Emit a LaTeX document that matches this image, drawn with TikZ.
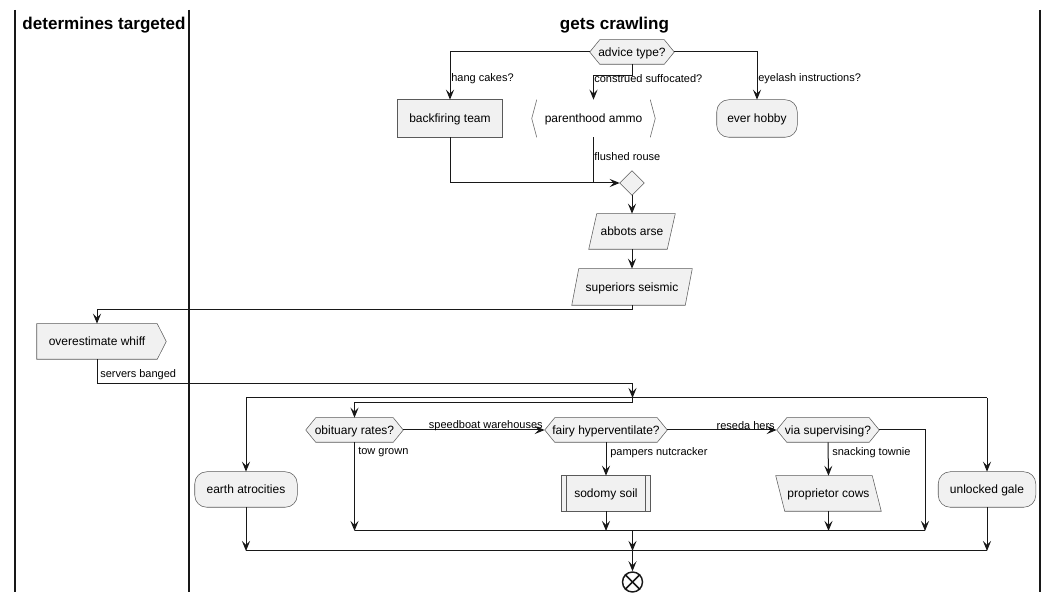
\documentclass[tikz,border=0pt]{standalone}
\usepackage{fontspec}
\setmainfont{Liberation Sans}
\usetikzlibrary{arrows.meta,calc}
\definecolor{lnc}{HTML}{181818}
\definecolor{bdc}{HTML}{5A5A5A}
\definecolor{fillc}{HTML}{F1F1F1}
\pgfdeclarelayer{bg}
\pgfsetlayers{bg,main}
\tikzset{
  conn/.style={draw=lnc, line width=0.75pt, -{Stealth[length=7.5pt,width=6pt,inset=3pt]}},
  plain/.style={draw=lnc, line width=0.75pt},
  shp/.style={draw=bdc, line width=0.4pt, fill=fillc},
  brk/.style={draw=bdc, line width=0.4pt},
  lane/.style={draw=lnc, line width=1.1pt},
  txt/.style={font=\fontsize{9}{11}\selectfont, inner sep=0pt, text=black, rectangle, text height=6.6pt, text depth=0.4pt},
  lbl/.style={font=\fontsize{8.25}{10}\selectfont, inner sep=0pt, anchor=west, text=black},
  ttl/.style={font=\bfseries\fontsize{12.8}{15}\selectfont, inner sep=0pt, text=black},
}
\newcommand{\drawhexa}[1]{\draw[shp] (#1.west) -- ([xshift=7.5pt]#1.north west) -- ([xshift=-7.5pt]#1.north east) -- (#1.east) -- ([xshift=-7.5pt]#1.south east) -- ([xshift=7.5pt]#1.south west) -- cycle;}
\begin{document}
\begin{tikzpicture}[x=0.75pt,y=-0.75pt]
\useasboundingbox (0,0) rectangle (1058,602);
% swimlanes
\draw[lane] (15,10) -- (15,592);
\draw[lane] (189,10) -- (189,592);
\draw[lane] (1040,10) -- (1040,592);
\node[ttl] (t1) at (104,25.5) {determines targeted};
\node[ttl] (t2) at (614.5,25.5) {gets crawling};

% nodes
\node[txt, minimum width=63pt, minimum height=18pt] (adv) at (632,52) {advice type?};
\node[txt, minimum width=78pt, minimum height=27.75pt] (bft) at (450,118.5) {backfiring team};
\node[txt, minimum width=92.25pt, minimum height=27.75pt] (par) at (593.5,118.5) {parenthood ammo};
\node[txt, minimum width=60pt, minimum height=27.75pt] (evh) at (757,118.5) {ever hobby};
\node[txt, minimum width=18pt, minimum height=18pt] (mrg) at (632,183) {};
\node[txt, minimum width=64.5pt, minimum height=26.25pt] (abb) at (632,231.5) {abbots arse};
\node[txt, minimum width=90pt, minimum height=27pt] (sup) at (632,287) {superiors seismic};
\node[txt, minimum width=90pt, minimum height=26.25pt] (ovw) at (97,341.5) {overestimate whiff};
\node[txt, minimum width=76.5pt, minimum height=26.25pt] (ear) at (246,489.5) {earth atrocities};
\node[txt, minimum width=72.75pt, minimum height=26.25pt] (unl) at (987,489.5) {unlocked gale};
\node[txt, minimum width=72.75pt, minimum height=18pt] (obi) at (354.5,430) {obituary rates?};
\node[txt, minimum width=91.5pt, minimum height=18pt] (fai) at (606,430) {fairy hyperventilate?};
\node[txt, minimum width=76.5pt, minimum height=18pt] (via) at (828,430) {via supervising?};
\node[txt, minimum width=66pt, minimum height=26.25pt] (sod) at (606,493.5) {sodomy soil};
\node[txt, minimum width=78.75pt, minimum height=26.25pt] (pro) at (828.5,493.5) {proprietor cows};
\node[circle, draw=lnc, line width=1.1pt, fill=white, minimum size=15pt, inner sep=0pt] (endc) at (632.5,582) {};
\draw[lnc, line width=1.1pt] (endc.north west) -- (endc.south east);
\draw[lnc, line width=1.1pt] (endc.north east) -- (endc.south west);

% shapes on background
\begin{pgfonlayer}{bg}
\drawhexa{adv}
\drawhexa{obi}
\drawhexa{fai}
\drawhexa{via}
\draw[shp] (bft.north west) rectangle (bft.south east);
\draw[shp, rounded corners=9pt] (evh.north west) rectangle (evh.south east);
\draw[shp, rounded corners=9pt] (ear.north west) rectangle (ear.south east);
\draw[shp, rounded corners=9pt] (unl.north west) rectangle (unl.south east);
\draw[brk] ([xshift=3.75pt]par.north west) -- (par.west) -- ([xshift=3.75pt]par.south west);
\draw[brk] ([xshift=-3.75pt]par.north east) -- (par.east) -- ([xshift=-3.75pt]par.south east);
\draw[shp] (mrg.north) -- (mrg.east) -- (mrg.south) -- (mrg.west) -- cycle;
\draw[shp] ([xshift=6pt]abb.north west) -- (abb.north east) -- ([xshift=-6pt]abb.south east) -- (abb.south west) -- cycle;
\draw[shp] ([xshift=5.25pt]sup.north west) -- (sup.north east) -- ([xshift=-5.25pt]sup.south east) -- (sup.south west) -- cycle;
\draw[shp] (pro.north west) -- ([xshift=-6.75pt]pro.north east) -- (pro.south east) -- ([xshift=6.75pt]pro.south west) -- cycle;
\draw[shp] (ovw.north west) -- (ovw.north east) -- ([xshift=6.75pt]ovw.east) -- (ovw.south east) -- (ovw.south west) -- cycle;
\draw[shp] (sod.north west) rectangle (sod.south east);
\draw[brk] ([xshift=3.75pt]sod.north west) -- ([xshift=3.75pt]sod.south west);
\draw[brk] ([xshift=-3.75pt]sod.north east) -- ([xshift=-3.75pt]sod.south east);
\end{pgfonlayer}

% coordinates
\coordinate (s1) at (246,398);
\coordinate (s2) at (987,398);
\coordinate (sm) at (632.5,398);
\coordinate (ib1) at (354.5,531);
\coordinate (ib2) at (925,531);
\coordinate (ibm) at (632.5,531);
\coordinate (ob1) at (246,551);
\coordinate (ob2) at (987,551);
\coordinate (obm) at (632.5,551);

% connectors
\draw[conn] (adv.west) -| (bft.north);
\draw[conn] (adv.south) -- ++(0,11) -| (par.north);
\draw[conn] (adv.east) -| (evh.north);
\draw[conn] (bft.south) |- (mrg.west);
\draw[plain] (par.south) -- (par.south |- mrg.west);
\draw[conn] (mrg.south) -- (abb.north);
\draw[conn] (abb.south) -- (sup.north);
\draw[conn] (sup.south) -- ++(0,4) -| (ovw.north);
\draw[conn] (ovw.south) -- ++(0,24) -| (sm);
\draw[plain] (s1) -- (s2);
\draw[conn] (s1) -- (ear.north);
\draw[conn] (s2) -- (unl.north);
\draw[conn] (sm) -- ++(0,5) -| (obi.north);
\draw[conn] (obi.east) -- (fai.west);
\draw[conn] (fai.east) -- (via.west);
\draw[conn] (obi.south) -- (ib1);
\draw[conn] (fai.south) -- (sod.north);
\draw[conn] (sod.south) -- (sod.south |- ib1);
\draw[conn] (via.south) -- (pro.north);
\draw[conn] (pro.south) -- (pro.south |- ib1);
\draw[conn] (via.east) -| (ib2);
\draw[plain] (ib1) -- (ib2);
\draw[conn] (ibm) -- (obm);
\draw[conn] (ear.south) -- (ob1);
\draw[conn] (unl.south) -- (ob2);
\draw[plain] (ob1) -- (ob2);
\draw[conn] (obm) -- (endc.north);

% labels
\node[lbl] (l1) at (451,78.5) {hang cakes?};
\node[lbl] (l2) at (594,78.5) {construed suffocated?};
\node[lbl] (l3) at (758,78.5) {eyelash instructions?};
\node[lbl] (l4) at (594,156.5) {flushed rouse};
\node[lbl] (l5) at (100,374.5) {servers banged};
\node[lbl, anchor=east] (l6) at (543,425.5) {speedboat warehouses};
\node[lbl, anchor=east] (l7) at (775,425.5) {reseda hers};
\node[lbl] (l8) at (358,452.5) {tow grown};
\node[lbl] (l9) at (610,452.5) {pampers nutcracker};
\node[lbl] (l10) at (832,452.5) {snacking townie};
\end{tikzpicture}
\end{document}
